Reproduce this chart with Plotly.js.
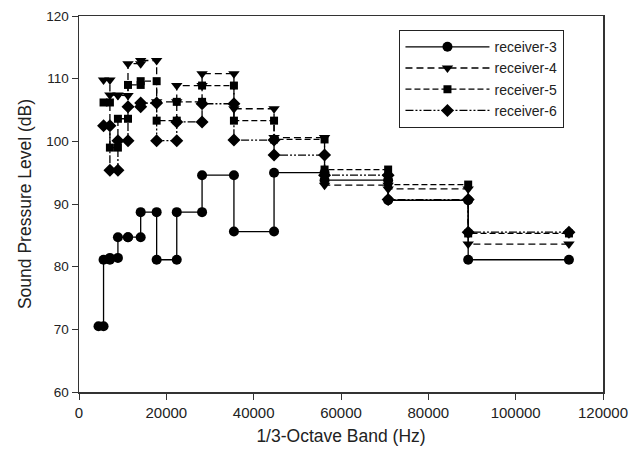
<!DOCTYPE html>
<html>
<head>
<meta charset="utf-8">
<script src="https://cdn.plot.ly/plotly-3.0.1.min.js"></script>
<style>html,body{margin:0;padding:0;background:#fff;}#chart{width:638px;height:454px;}</style>
</head>
<body>
<div id="chart"></div>
<script>
// 1/3-octave band edges (Hz)
const bandEdges = [4467, 5623, 7079, 8913, 11220, 14125, 17783, 22387, 28184, 35481, 44668, 56234, 70795, 89125, 112202];
// band levels (dB), one per band between consecutive edges
const receiver3 = [70.5, 81.1, 81.4, 84.7, 84.7, 88.7, 81.1, 88.7, 94.6, 85.6, 95.0, 93.8, 90.6, 81.1];
const receiver4 = [null, 109.8, 107.4, 107.3, 112.4, 112.9, 106.3, 108.9, 110.8, 105.2, 100.6, 93.0, 92.4, 83.6];
const receiver5 = [null, 106.2, 99.0, 103.6, 109.0, 109.6, 103.3, 106.3, 108.9, 103.3, 100.3, 95.5, 93.1, 85.3];
const receiver6 = [null, 102.5, 95.4, 100.1, 105.5, 106.1, 100.1, 103.1, 106.0, 100.2, 97.8, 94.6, 90.7, 85.5];
const seriesNames = ["receiver-3", "receiver-4", "receiver-5", "receiver-6"];
const xTicks = [0, 20000, 40000, 60000, 80000, 100000, 120000];
const yTicks = [60, 70, 80, 90, 100, 110, 120];

function steps(levels) {
  const x = [], y = [];
  levels.forEach((v, i) => {
    if (v === null) return;
    x.push(bandEdges[i], bandEdges[i + 1]);
    y.push(v, v);
  });
  return {x, y};
}

const styles = [
  {symbol: "circle", size: 10, dash: "solid"},
  {symbol: "triangle-down", size: 10, dash: "7px,4px"},
  {symbol: "square", size: 8, dash: "6px,3px"},
  {symbol: "diamond", size: 10, dash: "8px,2px,2px,2px,2px,2px"}
];

const allSeries = [receiver3, receiver4, receiver5, receiver6];
const traces = allSeries.map((lv, k) => {
  const s = steps(lv);
  return {
    x: s.x, y: s.y, name: seriesNames[k], type: "scatter", mode: "lines+markers",
    line: {color: "#000", width: 1.3, dash: styles[k].dash},
    marker: {color: "#000", symbol: styles[k].symbol, size: styles[k].size, line: {width: 0}}
  };
});

const fam = "Arial, 'Liberation Sans', sans-serif";
const layout = {
  width: 638, height: 454,
  margin: {l: 79, r: 35, t: 16, b: 62},
  paper_bgcolor: "#fff", plot_bgcolor: "#fff",
  font: {family: fam, size: 13, color: "#222"},
  showlegend: true,
  legend: {
    x: 0.611, y: 0.963, xanchor: "left", yanchor: "top",
    bgcolor: "#fff", bordercolor: "#222", borderwidth: 1.3,
    font: {family: fam, size: 14, color: "#222"},
    itemwidth: 84, tracegroupgap: 0
  },
  xaxis: {
    range: [0, 120000], tickmode: "array", tickvals: xTicks, ticktext: xTicks.map(String),
    ticks: "outside", ticklen: 6, tickcolor: "#333", showline: true, linecolor: "#333", linewidth: 1.5,
    mirror: true, showgrid: false, zeroline: false,
    tickfont: {family: fam, size: 15, color: "#222"},
    title: {text: "1/3-Octave Band (Hz)", font: {family: fam, size: 17.5, color: "#222"}, standoff: 10}
  },
  yaxis: {
    range: [60, 120], tickmode: "array", tickvals: yTicks, ticktext: yTicks.map(String),
    ticks: "outside", ticklen: 6, tickcolor: "#333", showline: true, linecolor: "#333", linewidth: 1.5,
    mirror: true, showgrid: false, zeroline: false,
    tickfont: {family: fam, size: 13.5, color: "#222"},
    title: {text: "Sound Pressure Level (dB)", font: {family: fam, size: 17.5, color: "#222"}, standoff: 10}
  }
};

Plotly.newPlot("chart", traces, layout, {displayModeBar: false, staticPlot: true});
</script>
</body>
</html>
